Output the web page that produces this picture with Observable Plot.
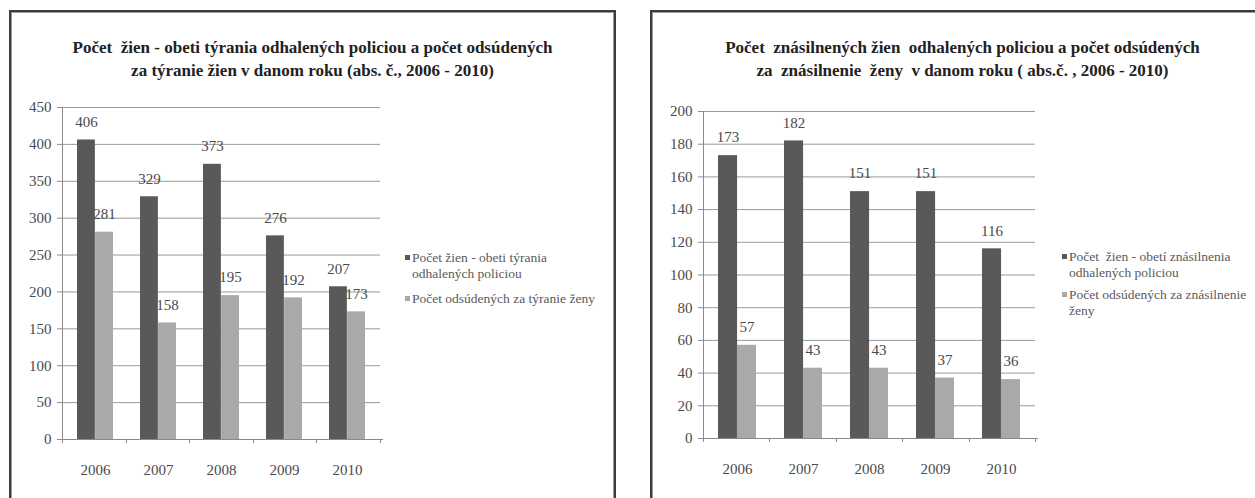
<!DOCTYPE html>
<html>
<head>
<meta charset="utf-8">
<script src="https://cdn.jsdelivr.net/npm/d3@7"></script>
<script src="https://cdn.jsdelivr.net/npm/@observablehq/plot@0.6"></script>
<style>
  html, body { margin: 0; padding: 0; background: #fff; }
  #page { position: relative; width: 1255px; height: 498px; overflow: hidden; background: #fff; }
  .box { position: absolute; box-sizing: border-box; border: 2px solid #3c3c3c; border-bottom: none;
         box-shadow: inset 1px 1px 0 #9a9a9a, inset -1px 0 0 #9a9a9a; }
  .title { position: absolute; text-align: center; font-family: "Liberation Serif", serif; font-weight: bold;
           font-size: 17px; line-height: 23px; color: #222; white-space: pre; }
  .chart { position: absolute; }
  .legend { position: absolute; font-family: "Liberation Serif", serif; font-size: 13.5px; line-height: 16px; color: #5a5a5a; white-space: pre; }
  .legend .item { position: relative; padding-left: 7px; }
  .legend .sw { position: absolute; left: 0; top: 5px; width: 5px; height: 5px; }
</style>
</head>
<body>
<div id="page">
  <div class="box" style="left:9px; top:10px; width:607px; height:500px;"></div>
  <div class="box" style="left:650px; top:10px; width:620px; height:500px;"></div>

  <div class="title" id="t1" style="left:9px; width:607px; top:36px;"></div>
  <div class="title" id="t2" style="left:655px; width:615px; top:36px;"></div>

  <div class="chart" id="c1" style="left:0px; top:90px;"></div>
  <div class="chart" id="c2" style="left:640px; top:90px;"></div>

  <div class="legend" id="l1" style="left:405px; top:250px;"></div>
  <div class="legend" id="l2" style="left:1062px; top:249px;"></div>
</div>
<script>
// ---- data ----
const years = ["2006", "2007", "2008", "2009", "2010"];

const leftTitle = ["Počet  žien - obeti týrania odhalených policiou a počet odsúdených",
                   "za týranie žien v danom roku (abs. č., 2006 - 2010)"];
const leftSeries = [["Počet žien - obeti týrania", "odhalených policiou"],
                    ["Počet odsúdených za týranie ženy"]];
const leftPolicia = [406, 329, 373, 276, 207];
const leftOdsudeni = [281, 158, 195, 192, 173];
const leftTicks = [0, 50, 100, 150, 200, 250, 300, 350, 400, 450];

const rightTitle = ["Počet  znásilnených žien  odhalených policiou a počet odsúdených",
                    "za  znásilnenie  ženy  v danom roku ( abs.č. , 2006 - 2010)"];
const rightSeries = [["Počet  žien - obetí znásilnenia", "odhalených policiou"],
                     ["Počet odsúdených za znásilnenie", "ženy"]];
const rightPolicia = [173, 182, 151, 151, 116];
const rightOdsudeni = [57, 43, 43, 37, 36];
const rightTicks = [0, 20, 40, 60, 80, 100, 120, 140, 160, 180, 200];

const colors = ["#595959", "#a9a9a9"];

function axisFrame(n) {
  return (index, scales, values, dims) => {
    const x0 = dims.marginLeft, x1 = dims.width - dims.marginRight;
    const yb = dims.height - dims.marginBottom, yt = dims.marginTop;
    const g = d3.create("svg:g").attr("stroke", "#8a8a8a").attr("stroke-width", 1);
    g.append("line").attr("x1", x0 + 0.5).attr("x2", x0 + 0.5).attr("y1", yt).attr("y2", yb);
    g.append("line").attr("x1", x0).attr("x2", x1 + 3).attr("y1", yb + 0.5).attr("y2", yb + 0.5);
    const step = (x1 - x0) / n;
    for (let i = 0; i <= n; i++) {
      const x = Math.round(x0 + i * step) + 0.5;
      g.append("line").attr("x1", x).attr("x2", x).attr("y1", yb).attr("y2", yb + 4);
    }
    return g.node();
  };
}

function chart(el, a, b, ticks, opts) {
  const rowsA = years.map((y, i) => ({year: y, value: a[i]}));
  const rowsB = years.map((y, i) => ({year: y, value: b[i]}));
  const innerW = opts.width - opts.marginLeft - opts.marginRight;
  const pi = opts.pi, po = pi / 2;
  const step = innerW / (years.length - pi + 2 * po);
  const bw = step * (1 - pi);
  const svg = Plot.plot({
    width: opts.width, height: opts.height,
    marginLeft: opts.marginLeft, marginRight: opts.marginRight,
    marginTop: opts.marginTop, marginBottom: opts.marginBottom,
    style: {fontFamily: "'Liberation Serif', serif", fontSize: "15px", color: "#4a4a4a", background: "transparent", overflow: "visible"},
    x: {domain: years, paddingInner: pi, paddingOuter: po, label: null},
    y: {domain: [0, ticks[ticks.length - 1]], label: null},
    marks: [
      Plot.gridY(ticks, {stroke: "#9a9a9a", strokeOpacity: 1}),
      Plot.barY(rowsA, {x: "year", y: "value", fill: colors[0], insetRight: bw / 2}),
      Plot.barY(rowsB, {x: "year", y: "value", fill: colors[1], insetLeft: bw / 2}),
      Plot.text(rowsA, {x: "year", y: "value", text: d => String(d.value), dy: -18, dx: -bw / 4, fill: "#4a4a4a", fontSize: 15}),
      Plot.text(rowsB, {x: "year", y: "value", text: d => String(d.value), dy: -18, dx: bw / 4, fill: "#4a4a4a", fontSize: 15}),
      Plot.axisY({ticks, tickSize: 5, tickPadding: 6, label: null, stroke: "#8a8a8a"}),
      Plot.axisX({tickSize: 0, tickPadding: 25, label: null}),
      axisFrame(years.length)
    ]
  });
  document.getElementById(el).append(svg);
}

chart("c1", leftPolicia, leftOdsudeni, leftTicks,
      {width: 400, height: 400, marginLeft: 62, marginRight: 20, marginTop: 17, marginBottom: 51, pi: 0.43});
chart("c2", rightPolicia, rightOdsudeni, rightTicks,
      {width: 415, height: 400, marginLeft: 63, marginRight: 20, marginTop: 21, marginBottom: 52, pi: 0.43});

function title(el, lines) {
  document.getElementById(el).innerHTML = lines.map(l => `<div>${l}</div>`).join("");
}
title("t1", leftTitle);
title("t2", rightTitle);

function legend(el, series, gap) {
  const root = document.getElementById(el);
  series.forEach((lines, i) => {
    const it = document.createElement("div");
    it.className = "item";
    if (i > 0) it.style.marginTop = gap + "px";
    it.innerHTML = `<span class="sw" style="background:${colors[i]}"></span>` + lines.join("<br>");
    root.append(it);
  });
}
legend("l1", leftSeries, 9);
legend("l2", rightSeries, 6);
</script>
</body>
</html>
